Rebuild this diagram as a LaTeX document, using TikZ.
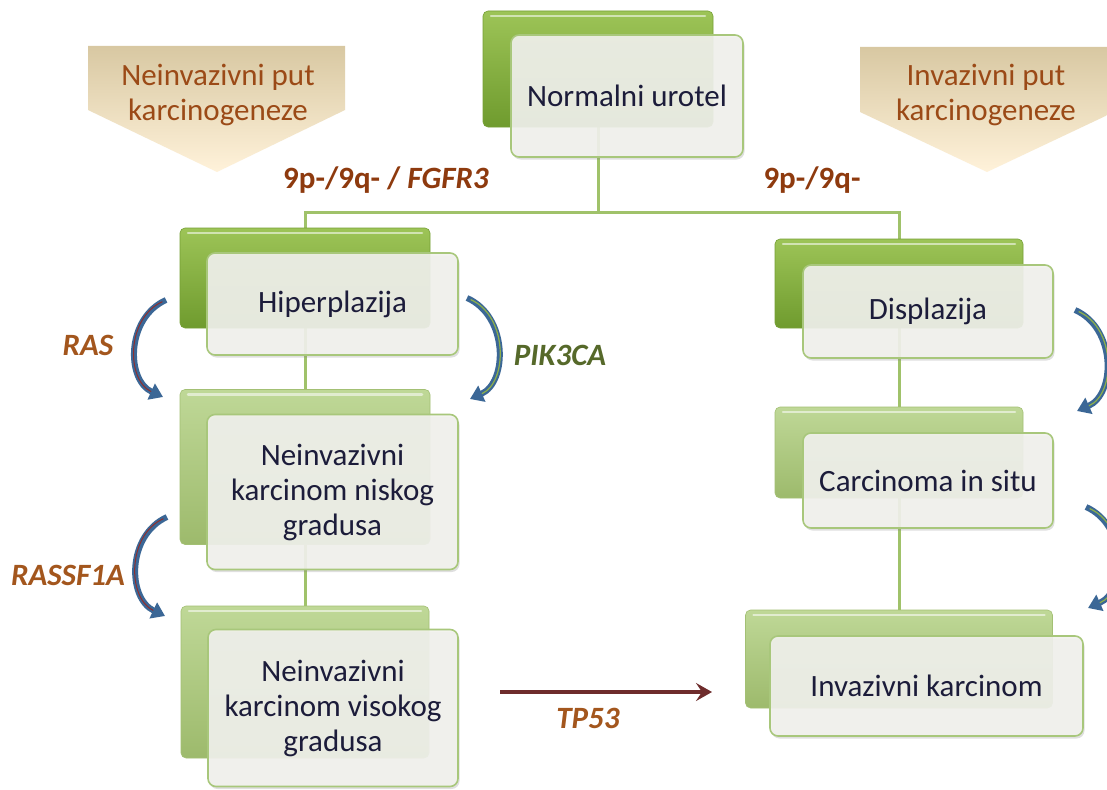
\documentclass[tikz,border=0pt]{standalone}
\usepackage{fontspec}
\setmainfont{Carlito}
\usetikzlibrary{arrows.meta,shadows,backgrounds}
\definecolor{gTopD}{HTML}{9DC457}
\definecolor{gBotD}{HTML}{6F9B2E}
\definecolor{gEdgeD}{HTML}{76A035}
\definecolor{gTopL}{HTML}{BFD897}
\definecolor{gBotL}{HTML}{9DBA6C}
\definecolor{gEdgeL}{HTML}{A3C074}
\definecolor{frFill}{HTML}{F2F2EE}
\definecolor{frEdge}{HTML}{A8C77B}
\definecolor{lineG}{HTML}{A0C26A}
\definecolor{txt}{HTML}{1C1C3A}
\definecolor{hdrBrown}{HTML}{9B4A17}
\definecolor{lblBrown}{HTML}{A3561D}
\definecolor{nineBrown}{HTML}{8E3A0E}
\definecolor{olive}{HTML}{56692A}
\definecolor{arrBlue}{HTML}{3B6796}
\definecolor{innerRed}{HTML}{8E2F2F}
\definecolor{innerGreen}{HTML}{8DB04A}
\definecolor{tpArrow}{HTML}{6E2C2C}
\definecolor{chevTop}{HTML}{D8C8A2}
\definecolor{chevBot}{HTML}{FFF2DA}
\tikzset{
  backbox/.style={rectangle, rounded corners=5pt, inner sep=0pt, top color=gTopD, bottom color=gBotD, draw=gEdgeD, line width=0.6pt,
    path picture={\draw[white, opacity=0.55, line width=2.5pt, line cap=round]
      ([xshift=8pt,yshift=-5pt]path picture bounding box.north west) -- ([xshift=-8pt,yshift=-5pt]path picture bounding box.north east);}},
  backlight/.style={backbox, top color=gTopL, bottom color=gBotL, draw=gEdgeL},
  frontbox/.style={rectangle, rounded corners=8pt, inner sep=0pt, draw=frEdge, line width=1.6pt, fill=frFill, fill opacity=0.9, text opacity=1,
    align=center, text=txt, font=\fontsize{31}{35}\selectfont,
    drop shadow={shadow xshift=1.5pt, shadow yshift=-2.5pt, opacity=0.25}},
  conn/.style={draw=lineG, line width=3pt},
  lbl/.style={font=\fontsize{31}{35}\selectfont\bfseries\itshape, text=lblBrown, inner sep=0pt},
  hdr/.style={font=\fontsize{31}{35}\selectfont, text=hdrBrown, align=center, inner sep=0pt},
  curvout/.style={draw=arrBlue, line width=6pt, -{Triangle[length=13pt,width=17pt]}},
  curvinR/.style={draw=innerRed, line width=1pt, shorten >=13pt, shorten <=4pt},
  curvinG/.style={draw=innerGreen, line width=1.2pt, shorten >=13pt, shorten <=4pt},
  tparrow/.style={draw=tpArrow, line width=3.5pt, -{Stealth[length=16pt,width=18pt,inset=6pt]}}
}
\begin{document}
\begin{tikzpicture}[x=1pt,y=-1pt]
\useasboundingbox (0,0) rectangle (1107,789);
\clip (0,0) rectangle (1107,789);

% chevrons
\shade[top color=chevTop, bottom color=chevBot] (88,46) -- (345,46) -- (345,110) -- (217,172) -- (88,110) -- cycle;
\shade[top color=chevTop, bottom color=chevBot] (860,47) -- (1114,47) -- (1114,112) -- (987,172) -- (860,112) -- cycle;
\node[hdr] (hL) at (218,95) {Neinvazivni put\\karcinogeneze};
\node[hdr] (hR) at (986,95) {Invazivni put\\karcinogeneze};

% back boxes
\node[backbox, minimum width=230pt, minimum height=116pt] (topB) at (598,69) {};
\node[backbox, minimum width=250pt, minimum height=100pt] (hipB) at (305,278) {};
\node[backlight, minimum width=250pt, minimum height=155pt] (nisB) at (305,467) {};
\node[backlight, minimum width=248pt, minimum height=152pt] (visB) at (305,682) {};
\node[backbox, minimum width=248pt, minimum height=89pt] (dysB) at (899,283.5) {};
\node[backlight, minimum width=248pt, minimum height=91pt] (cisB) at (899,452.5) {};
\node[backlight, minimum width=307pt, minimum height=98pt] (invB) at (899,659) {};

% connectors (behind)
\coordinate (bar) at (598,212);
\begin{scope}[on background layer]
\fill[white] (0,0) rectangle (1107,789);
\draw[conn] (topB.center) -- (bar);
\draw[conn] (hipB.center) -- (hipB.center |- bar) -- (dysB.center |- bar) -- (dysB.center);
\draw[conn] (hipB.center) -- (nisB.center) -- (visB.center);
\draw[conn] (dysB.center) -- (cisB.center) -- (invB.center);
\end{scope}

% front boxes
\node[frontbox, minimum width=232pt, minimum height=122pt] (topF) at (627,96) {Normalni urotel};
\node[frontbox, minimum width=251pt, minimum height=102pt] (hipF) at (332.5,304) {Hiperplazija};
\node[frontbox, minimum width=251pt, minimum height=155pt] (nisF) at (332.5,492) {Neinvazivni\\karcinom niskog\\gradusa};
\node[frontbox, minimum width=250pt, minimum height=157pt] (visF) at (333,708) {Neinvazivni\\karcinom visokog\\gradusa};
\node[frontbox, minimum width=250pt, minimum height=93pt] (dysF) at (928,311.5) {Displazija};
\node[frontbox, minimum width=250pt, minimum height=95pt] (cisF) at (928,480.5) {Carcinoma in situ};
\node[frontbox, minimum width=313pt, minimum height=100pt] (invF) at (926.5,686) {Invazivni karcinom};

% labels
\node[lbl, text=nineBrown, font=\fontsize{31}{35}\selectfont\bfseries] (l9a) at (386,180) {9p-/9q- / \textit{FGFR3}};
\node[lbl, text=nineBrown, font=\fontsize{31}{35}\selectfont\bfseries] (l9b) at (812,180) {9p-/9q-};
\node[lbl] (lRAS) at (88,345) {RAS};
\node[lbl, text=olive] (lPIK) at (560,355) {PIK3CA};
\node[lbl] (lRASSF) at (68,575) {RASSF1A};
\node[lbl] (lTP) at (588,718) {TP53};

% curved arrows
\coordinate (a1s) at (166,300); \coordinate (a1e) at (163,397);
\coordinate (a2s) at (467,298); \coordinate (a2e) at (470,399);
\coordinate (a3s) at (167,517); \coordinate (a3e) at (165,616);
\coordinate (a4s) at (1075,310); \coordinate (a4e) at (1077,411);
\coordinate (a5s) at (1086,507); \coordinate (a5e) at (1088,608);

\draw[curvout] (a1s) .. controls (126,318) and (126,380) .. (a1e);
\draw[curvinR] (a1s) .. controls (126,318) and (126,380) .. (a1e);
\draw[curvout] (a2s) .. controls (508,316) and (508,382) .. (a2e);
\draw[curvinG] (a2s) .. controls (508,316) and (508,382) .. (a2e);
\draw[curvout] (a3s) .. controls (127,535) and (127,598) .. (a3e);
\draw[curvinR] (a3s) .. controls (127,535) and (127,598) .. (a3e);
\draw[curvout] (a4s) .. controls (1116,328) and (1116,394) .. (a4e);
\draw[curvinG] (a4s) .. controls (1116,328) and (1116,394) .. (a4e);
\draw[curvout] (a5s) .. controls (1127,525) and (1127,591) .. (a5e);
\draw[curvinG] (a5s) .. controls (1127,525) and (1127,591) .. (a5e);

% TP53 arrow
\coordinate (tpS) at (500,692);
\coordinate (tpE) at (712,692);
\draw[tparrow] (tpS) -- (tpE);
\end{tikzpicture}
\end{document}
